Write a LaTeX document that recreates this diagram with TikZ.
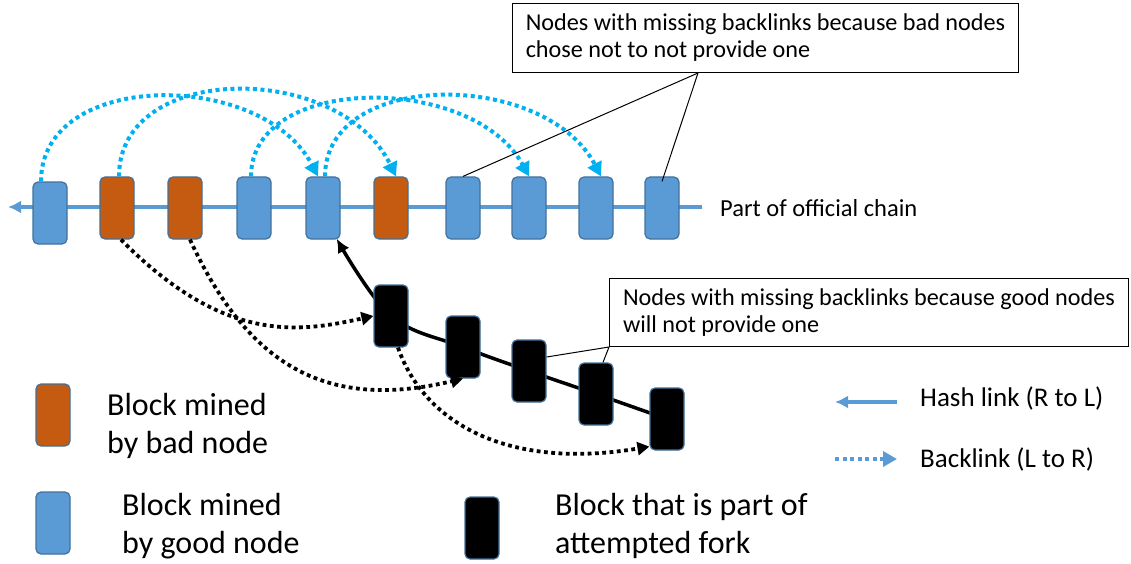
\documentclass[tikz,border=0pt]{standalone}
\usepackage{fontspec}
\setmainfont{Carlito}
\usetikzlibrary{arrows.meta,backgrounds}
\definecolor{goodblue}{HTML}{5B9BD5}
\definecolor{badred}{HTML}{C55A11}
\definecolor{rimblue}{HTML}{41719C}
\definecolor{linkcyan}{HTML}{00B0F0}
\tikzset{
  block/.style={draw=rimblue,line width=1.2pt,rounded corners=5pt,minimum width=34pt,minimum height=62pt,inner sep=0pt},
  forkblk/.style={block,fill=black},
  hashlink/.style={goodblue,line width=4pt,-{Latex[length=13pt,width=13pt]}},
  backlink/.style={linkcyan,line width=4pt,dash pattern=on 4pt off 3.5pt,-{Triangle[length=14pt,width=15pt]}},
  badlink/.style={black,line width=3.8pt,dash pattern=on 3.8pt off 3.5pt,-{Triangle[length=12pt,width=13pt]}},
  callout/.style={draw,line width=1pt,inner sep=0pt,align=left,anchor=north west,font=\fontsize{24.2}{27}\selectfont},
  legend/.style={anchor=base west,inner sep=0pt,align=left,font=\fontsize{32}{38}\selectfont},
  keytext/.style={anchor=base west,inner sep=0pt,font=\fontsize{27}{32}\selectfont}
}
\begin{document}
\begin{tikzpicture}[x=1pt,y=-1pt]
\def\chainY{208}
\useasboundingbox (0,0) rectangle (1131,564);

    %Cadena oficial
    \node[block,fill=goodblue] (b1) at (50,213) {};
    \foreach \n/\x/\col in {2/117/badred,3/185/badred,4/254/goodblue,5/323/goodblue,
                            6/391/badred,7/463/goodblue,8/529/goodblue,9/596/goodblue,10/662/goodblue}{
        \node[block,fill=\col] (b\n) at (\x,\chainY) {};
    }
    \coordinate (chainR) at (702,207);
    \coordinate (chainL) at (8,207);
    \node[anchor=base west,inner sep=0pt,font=\fontsize{24.5}{28}\selectfont] (chainlbl) at (720,216) {Part of official chain};

    %Fork
    \foreach \n/\x/\y in {1/391/316,2/463/347,3/529/371,4/596/394,5/667/419}{
        \node[forkblk] (f\n) at (\x,\y) {};
    }
    \coordinate (b5tip) at ([xshift=-4pt,yshift=1pt]b5.south east);

    \begin{scope}[on background layer]
        \draw[hashlink] (chainR) -- (chainL);
        \draw[line width=3.5pt,-{Latex[length=14pt,width=13pt]}] plot[smooth,tension=0.6]
            coordinates {(f5.center) (f4.center) (f3.center) (f2.center) (f1.center) (b5tip)};
    \end{scope}

    %Backlinks
    \draw[backlink] ([xshift=-9pt]b1.north) .. controls +(0,-112) and +(-56,-107) .. ([xshift=-5pt]b5.north);
    \draw[backlink] ([xshift=2pt]b2.north) .. controls +(0,-115) and +(-56,-115) .. ([xshift=5pt]b6.north);
    \draw[backlink] ([xshift=-3pt]b4.north) .. controls +(0,-103) and +(-56,-103) .. (b8.north);
    \draw[backlink] ([xshift=2pt]b5.north) .. controls +(0,-107) and +(-56,-107) .. ([xshift=5pt]b9.north);

    \draw[badlink] ([xshift=4pt]b2.south) .. controls (225,345) and (300,332) .. (f1.west);
    \draw[badlink] ([xshift=5pt]b3.south) .. controls (250,370) and (330,410) .. (f2.south);
    \draw[badlink] ([xshift=7pt]f1.south) .. controls (425,425) and (510,470) .. ([yshift=4pt]f5.south west);

    %Notas
    \node[callout,minimum width=506pt,minimum height=69pt] (note1) at (512,3)
        {Nodes with missing backlinks because bad nodes\\chose not to not provide one};
    \draw[line width=1pt] ([xshift=186pt]note1.south west) -- (b7.north);
    \draw[line width=1pt] ([xshift=186pt]note1.south west) -- ([yshift=-5pt]b10.north);

    \node[callout,minimum width=519pt,minimum height=68pt] (note2) at (609,278)
        {Nodes with missing backlinks because good nodes\\will not provide one};
    \draw[line width=1pt] (note2.south west) -- ([yshift=14pt]f3.east);
    \draw[line width=1pt] (note2.south west) -- ([xshift=7pt]f4.north);

    %Leyenda
    \node[block,fill=badred] (legbad) at (53,415) {};
    \node[legend] (badtxt) at (107,453) {Block mined\\by bad node};
    \node[block,fill=goodblue] (leggood) at (53,523) {};
    \node[legend] (goodtxt) at (122,553) {Block mined\\by good node};
    \node[forkblk] (legfork) at (482,528) {};
    \node[legend] (forktxt) at (555,553) {Block that is part of\\attempted fork};

    \coordinate (hashR) at (897,402);
    \coordinate (hashL) at (835,402);
    \draw[hashlink] (hashR) -- (hashL);
    \node[keytext] (hashtxt) at (920,406) {Hash link (R to L)};
    \coordinate (backL) at (835,459);
    \coordinate (backR) at (897,459);
    \draw[backlink,goodblue] (backL) -- (backR);
    \node[keytext] (backtxt) at (920,467) {Backlink (L to R)};
\end{tikzpicture}
\end{document}
